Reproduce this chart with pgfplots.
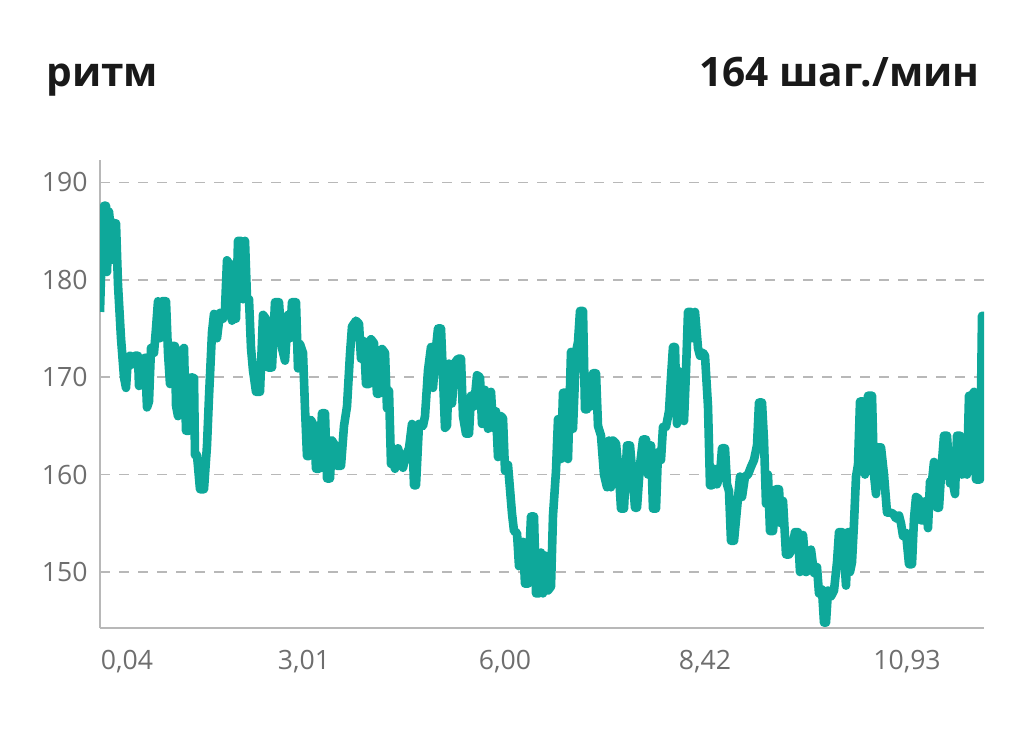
\documentclass[border=0pt]{standalone}
\usepackage{pgfplots}
\pgfplotsset{compat=1.18}
\usepackage{fontspec}
\setmainfont{Open Sans}
\definecolor{lineteal}{RGB}{14,168,154}
\definecolor{gridgray}{RGB}{184,184,184}
\definecolor{labgray}{RGB}{110,110,110}
\definecolor{titlecol}{RGB}{25,25,25}
\begin{document}
\begin{tikzpicture}[x=0.5pt,y=0.5pt]
\path[use as bounding box] (0,0) rectangle (1024,751);
\node[anchor=base west, inner sep=0pt, text=titlecol, font=\fontsize{20.3}{24}\selectfont\bfseries] at (46,664) {ритм};
\node[anchor=base east, inner sep=0pt, text=titlecol, font=\fontsize{20.3}{24}\selectfont\bfseries] at (980,664) {164 шаг./мин};
\begin{axis}[
  at={(50pt,61.5pt)}, anchor=south west,
  scale only axis, width=442pt, height=234pt,
  xmin=100, xmax=984, ymin=144.25, ymax=192.3,
  axis x line*=bottom, axis y line*=left,
  axis line style={gridgray, line width=0.8pt},
  major tick length=0pt,
  xtick={127,304,505,705,907},
  xticklabels={{0,04},{3,01},{6,00},{8,42},{10,93}},
  ytick={150,160,170,180,190},
  yticklabels={150,160,170,180,190},
  ymajorgrids,
  major grid style={gridgray, line width=0.75pt, dash pattern=on 5pt off 4.5pt},
  tick label style={text=labgray, font=\fontsize{13.3}{15}\selectfont},
  yticklabel style={inner sep=0pt, anchor=east, xshift=-6pt},
  xticklabel style={inner sep=0pt, anchor=north, yshift=-11pt},
]
\addplot[lineteal, line width=4.3pt, line join=round, mark=none] coordinates {
(100,176.7)(102,184.0)(104,187.6)(106,187.6)(107,180.8)(109,187.0)(110,185.9)(113,185.9)(114,182.0)(116,185.8)
(118,179.5)(121,174.0)(124,170.0)(126,168.9)(128,172.0)(130,172.2)(132,171.3)(135,172.2)(138,172.2)(139,169.1)
(142,171.0)(145,172.0)(147,166.9)(149,167.5)(151,173.0)(154,172.5)(156,175.0)(158,177.8)(160,174.0)(162,177.8)
(166,177.8)(168,172.5)(170,169.3)(172,173.2)(175,173.2)(176,167.1)(178,166.0)(181,172.5)(184,173.0)(186,164.5)
(189,164.5)(191,170.0)(194,169.9)(195,162.0)(197,162.0)(200,158.5)(204,158.5)(207,163.0)(209,168.0)(212,174.6)
(214,176.5)(217,174.0)(220,176.6)(223,176.0)(225,177.0)(227,182.0)(230,181.5)(232,175.8)(234,181.6)(236,176.0)
(238,184.0)(241,184.0)(243,178.0)
(245,184.0)(247,178.1)(249,178.0)(251,173.0)(253,170.7)(256,168.5)(260,168.5)(263,176.4)(266,176.0)(268,171.0)
(272,171.0)(275,177.7)(279,177.7)(282,173.0)(285,171.7)(288,176.4)(290,174.0)(292,177.7)(296,177.7)(298,170.9)
(300,173.4)(303,172.5)(305,166.8)(307,161.9)(309,161.9)(311,165.6)(314,165.0)(316,160.6)(319,160.6)(322,166.3)
(325,166.3)(327,159.6)(330,159.6)(332,163.5)(335,163.0)(337,160.9)(341,160.9)(344,165.0)(347,167.0)(350,172.4)
(352,175.2)(356,175.8)(359,175.5)(361,171.9)(364,173.7)(366,169.3)(369,169.3)(371,173.9)(374,173.5)(377,168.3)
(379,168.3)(382,172.9)(385,172.5)(387,166.8)(389,168.6)(391,161.1)(393,161.5)
(395,160.6)(398,162.7)(401,161.5)(403,160.7)(406,162.0)(409,162.7)(412,165.2)(414,158.9)(416,158.9)(419,165.2)
(423,165.0)(425,166.0)(428,170.7)(431,173.1)(433,168.9)(436,173.0)(438,175.0)(441,175.0)(443,170.0)(445,164.8)
(447,165.0)(449,171.4)(452,167.3)(455,171.5)(458,171.9)(461,171.9)(463,166.0)(466,164.2)(469,164.2)(471,168.1)
(474,167.0)(477,170.2)(480,170.0)(482,165.2)(485,168.7)(488,164.7)(491,168.5)(493,164.8)(496,166.5)(498,161.8)
(501,166.0)(503,165.8)(505,160.4)(508,161.0)(510,158.5)(512,156.0)(514,154.2)(517,154.0)(519,150.6)(521,151.0)
(523,153.1)(525,148.8)(528,148.8)(531,155.7)(534,155.7)(536,147.8)(539,147.8)(541,152.0)(543,147.8)
(545,151.7)(548,148.1)(551,148.5)(553,155.8)(556,160.4)(558,165.7)(561,161.6)(563,168.4)(566,168.4)(568,161.6)
(571,172.6)(573,164.7)(576,172.6)(578,173.6)(580,176.8)(583,176.8)(585,166.7)(587,166.7)(589,169.2)(591,167.0)
(593,170.4)(596,170.4)(598,165.0)(601,164.0)(604,160.0)(607,158.7)(609,163.5)(611,158.7)(613,163.5)(616,163.2)
(619,160.0)(621,156.5)(624,156.5)(627,163.0)(630,163.0)(632,160.5)(635,156.6)(637,156.6)(640,161.0)(643,163.6)
(646,163.6)(648,160.0)(651,163.0)(653,156.5)(656,156.5)(658,162.3)(661,161.5)(663,164.9)(666,164.9)(669,166.5)
(671,170.0)(673,173.1)(675,173.1)(677,165.2)(679,170.6)(682,170.0)(684,165.5)(686,170.6)(688,176.7)(691,176.7)
(693,174.0)
(695,176.7)(698,173.0)(700,172.2)(703,172.5)(705,172.2)(708,167.0)(710,158.9)(712,158.9)(714,160.6)(717,159.0)
(720,160.0)(722,162.7)(725,162.7)(727,159.0)(729,158.3)(731,153.2)(734,153.2)(737,156.5)(740,159.8)(742,157.7)
(745,159.8)(748,160.0)(751,160.8)(754,161.5)(757,163.0)(759,167.4)(762,167.4)(764,163.5)(766,157.0)(768,160.0)
(770,154.2)(773,154.2)(776,158.5)(779,158.5)(781,155.0)(783,157.3)(786,151.8)(789,151.8)(792,152.3)(795,154.1)
(798,154.1)(800,150.0)(803,153.8)(806,150.0)(809,150.2)(811,152.3)(814,149.9)(817,150.5)(819,147.8)(822,148.2)
(824,144.8)(826,144.8)(828,148.1)(831,147.5)(834,148.1)(837,151.0)(839,154.1)(842,154.1)(844,152.0)
(846,148.6)(848,154.1)(850,150.0)(852,151.0)(854,155.0)(856,159.8)(858,161.0)(860,167.5)(863,167.5)(865,160.0)
(868,168.1)(872,168.1)(874,160.0)(876,158.0)(878,162.8)(881,162.8)(884,160.0)(887,156.1)(890,156.1)(893,156.0)
(896,155.5)(899,155.8)(901,155.0)(903,153.7)(906,154.0)(909,150.8)(912,150.8)(914,155.5)(916,157.7)(919,157.5)
(921,155.3)(924,155.3)(926,157.3)(928,154.5)(930,159.3)(932,159.3)(934,161.3)(937,156.6)(939,156.6)(941,160.0)
(944,164.0)(947,164.0)(950,159.1)(953,159.1)(955,158.0)(957,164.0)(960,164.0)(962,160.0)(965,161.0)(967,160.0)
(969,168.1)(972,168.1)(974,168.5)(976,159.5)(978,159.5)(980,159.5)(982,176.3)(984,176.3)
};
\end{axis}
\end{tikzpicture}
\end{document}
